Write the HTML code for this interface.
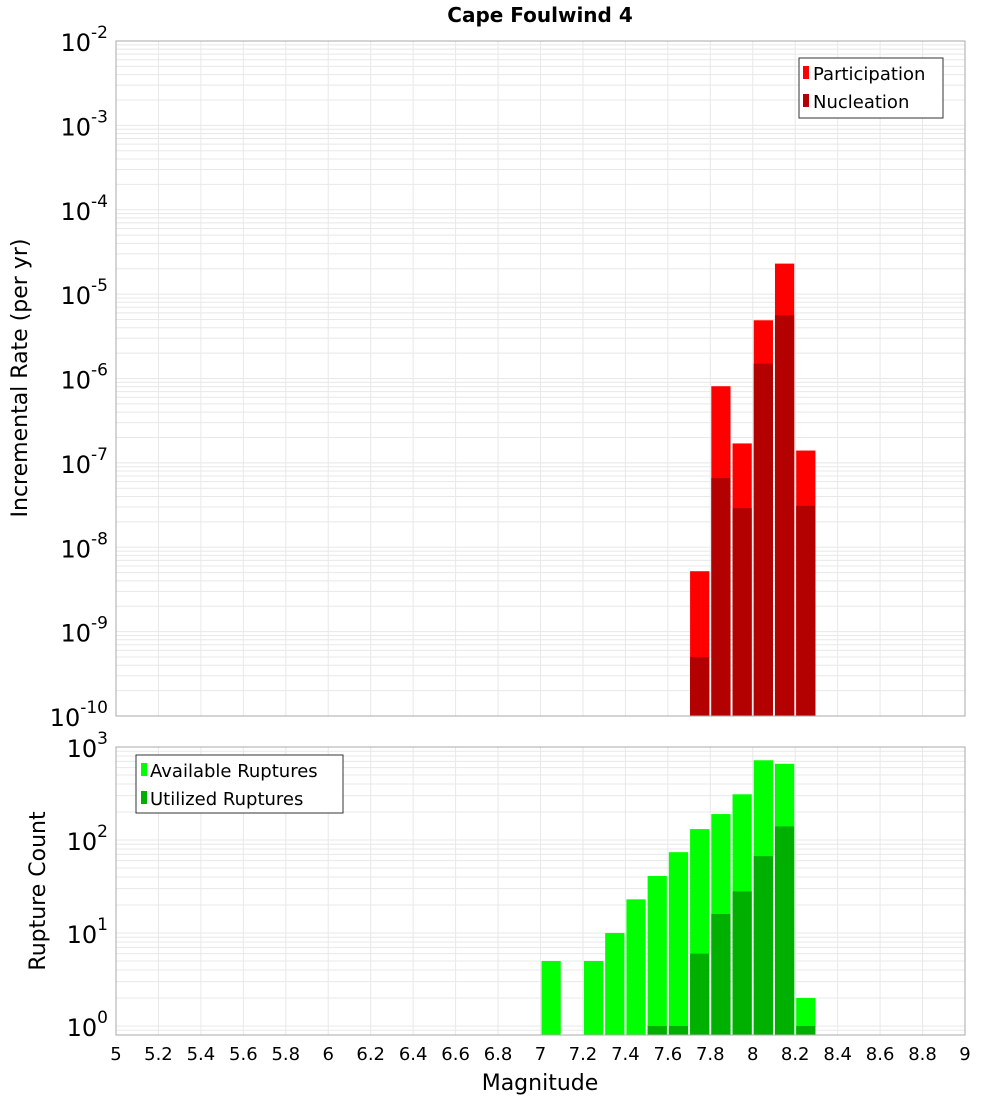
<!DOCTYPE html>
<html><head><meta charset="utf-8"><style>
body{margin:0;background:#fff;font-family:"DejaVu Sans","Liberation Sans",sans-serif}
svg text{font-family:"DejaVu Sans","Liberation Sans",sans-serif}
</style></head><body>
<svg id="chart" width="1000" height="1100" xmlns="http://www.w3.org/2000/svg">
<text x="540" y="22" text-anchor="middle" font-size="20" font-weight="bold">Cape Foulwind 4</text>
<g id="top"></g><g id="bot"></g>
<text transform="translate(27,378) rotate(-90)" text-anchor="middle" font-size="22">Incremental Rate (per yr)</text>
<text transform="translate(45,891) rotate(-90)" text-anchor="middle" font-size="22">Rupture Count</text>
<text x="540" y="1090" text-anchor="middle" font-size="22">Magnitude</text>
<g>
<rect x="799" y="58" width="144" height="60" fill="#fff" stroke="#333"/>
<rect x="803" y="66" width="6" height="13" fill="#ff0000"/><text x="813" y="80" font-size="18">Participation</text>
<rect x="803" y="94" width="6" height="13" fill="#b30000"/><text x="813" y="108" font-size="18">Nucleation</text>
</g>
<g>
<rect x="136" y="755" width="207" height="58" fill="#fff" stroke="#333"/>
<rect x="141" y="763" width="6" height="13" fill="#00ff00"/><text x="150" y="777" font-size="18">Available Ruptures</text>
<rect x="141" y="791" width="6" height="13" fill="#00b000"/><text x="150" y="805" font-size="18">Utilized Ruptures</text>
</g>
</svg>
<script>
const mags=[7.0,7.1,7.2,7.3,7.4,7.5,7.6,7.7,7.8,7.9,8.0,8.1,8.2];
const participation=[0,0,0,0,0,0,0,5.2e-9,8.1e-7,1.7e-7,4.9e-6,2.3e-5,1.4e-7];
const nucleation=[0,0,0,0,0,0,0,5e-10,6.6e-8,2.9e-8,1.5e-6,5.6e-6,3.1e-8];
const available=[5,0,5,10,23,41,74,131,190,310,720,660,2];
const utilized=[0,0,0,0,0,1,1,6,16,28,67,140,1];
const xTicks=["5","5.2","5.4","5.6","5.8","6","6.2","6.4","6.6","6.8","7","7.2","7.4","7.6","7.8","8","8.2","8.4","8.6","8.8","9"];
const NS="http://www.w3.org/2000/svg";
const X0=116,X1=965;
const xs=m=>X0+(m-5)/4*(X1-X0);
function mk(p,t,a){const e=document.createElementNS(NS,t);for(const k in a)e.setAttribute(k,a[k]);p.appendChild(e);return e;}
function panel(g,top,bottom,lmin,lmax,name,series,colors,decLabels){
  const ys=v=>bottom-(Math.log10(v)-lmin)/(lmax-lmin)*(bottom-top);
  for(let d=Math.floor(lmin);d<lmax;d++)for(let k=1;k<10;k++){const v=k*Math.pow(10,d);const y=ys(v);if(y<top-0.5||y>bottom+0.5)continue;
    const l=mk(g,'line',{x1:X0,x2:X1,y1:y,y2:y,stroke:'#e8e8e8'});
    
    }
  for(let i=0;i<xTicks.length;i++){const x=xs(+xTicks[i]);
    const l=mk(g,'line',{x1:x,x2:x,y1:top,y2:bottom,stroke:'#e8e8e8'});
    
    }
  series.forEach((s,si)=>{s.forEach((v,i)=>{if(v<=0)return;const x=xs(mags[i]);const w=xs(mags[i]+0.1)-x;
    const y=Math.max(top,ys(v));
    const r=mk(g,'rect',{x:x+1,y:y,width:w-2,height:bottom-y,fill:colors[si]});
    
    });});
  const f=mk(g,'rect',{x:X0,y:top,width:X1-X0,height:bottom-top,fill:'none',stroke:'#aaa'});
  
  
  for(let d=Math.ceil(lmin);d<=lmax;d++){const y=ys(Math.pow(10,d));
    const t=mk(g,'text',{x:X0-8,y:y+10,'text-anchor':'end','font-size':24});
    
    
    t.textContent='10';const s=mk(t,'tspan',{dy:-13,'font-size':17});s.textContent=String(d);}
}
panel(document.getElementById('top'),41,716,-10,-2,'rate',[participation,nucleation],['#ff0000','#b30000']);
panel(document.getElementById('bot'),747,1035,Math.log10(0.8),Math.log10(1000)+0.0,'count',[available,utilized],['#00ff00','#00b000']);
const g=document.getElementById('bot');
xTicks.forEach(t=>{const e=mk(g,'text',{x:xs(+t),y:1060,'text-anchor':'middle','font-size':18});
  
  
  e.textContent=t;});
</script>
</body></html>
